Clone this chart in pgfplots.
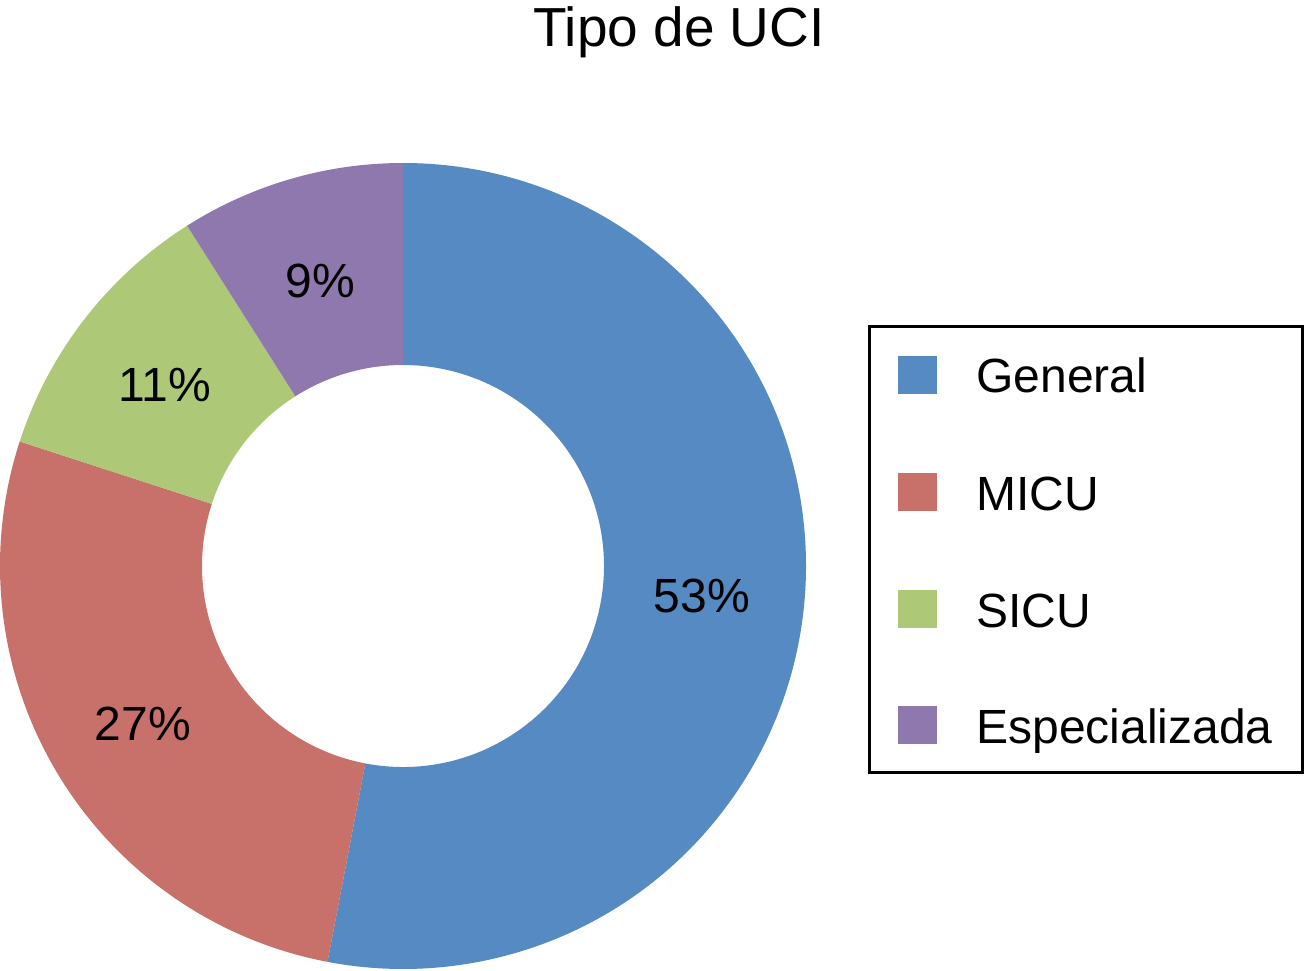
\documentclass[border=0pt]{standalone}
\usepackage{pgfplots}
\pgfplotsset{compat=1.18}
\usepackage{fontspec}
\setmainfont{Liberation Sans}
\definecolor{cGen}{HTML}{558AC2}
\definecolor{cMicu}{HTML}{C8706A}
\definecolor{cSicu}{HTML}{ADC978}
\definecolor{cEsp}{HTML}{8E78AE}
\begin{document}
\begin{tikzpicture}
\begin{axis}[x=0.5pt, y=0.5pt, xmin=0, xmax=1304, ymin=0, ymax=970,
  hide axis, scale only axis, clip=false]
\path (axis cs:0,0) rectangle (axis cs:1304,970);
% donut: center (403,404), outer radius 201.5pt, inner radius 100.5pt
% General 53
\fill[cGen, overlay] ([shift={(90:201.5pt)}]axis cs:403,404) arc[start angle=90, end angle={90-3.6*53}, radius=201.5pt]
  -- ([shift={({90-3.6*53}:100.5pt)}]axis cs:403,404) arc[start angle={90-3.6*53}, end angle=90, radius=100.5pt] -- cycle;
% MICU 27
\fill[cMicu, overlay] ([shift={({90-3.6*53}:201.5pt)}]axis cs:403,404) arc[start angle={90-3.6*53}, end angle={90-3.6*80}, radius=201.5pt]
  -- ([shift={({90-3.6*80}:100.5pt)}]axis cs:403,404) arc[start angle={90-3.6*80}, end angle={90-3.6*53}, radius=100.5pt] -- cycle;
% SICU 11
\fill[cSicu, overlay] ([shift={({90-3.6*80}:201.5pt)}]axis cs:403,404) arc[start angle={90-3.6*80}, end angle={90-3.6*91}, radius=201.5pt]
  -- ([shift={({90-3.6*91}:100.5pt)}]axis cs:403,404) arc[start angle={90-3.6*91}, end angle={90-3.6*80}, radius=100.5pt] -- cycle;
% Especializada 9
\fill[cEsp, overlay] ([shift={({90-3.6*91}:201.5pt)}]axis cs:403,404) arc[start angle={90-3.6*91}, end angle={90-3.6*100}, radius=201.5pt]
  -- ([shift={({90-3.6*100}:100.5pt)}]axis cs:403,404) arc[start angle={90-3.6*100}, end angle={90-3.6*91}, radius=100.5pt] -- cycle;
% labels
\node[font=\fontsize{24}{28}\selectfont, anchor=center] at (axis cs:702,374) {53\%};
\node[font=\fontsize{24}{28}\selectfont, anchor=center] at (axis cs:143,246) {27\%};
\node[font=\fontsize{24}{28}\selectfont, anchor=center] at (axis cs:165,585) {11\%};
\node[font=\fontsize{24}{28}\selectfont, anchor=center] at (axis cs:320,689) {9\%};
% title
\node[font=\fontsize{27.5}{32}\selectfont, anchor=base] at (axis cs:679,923) {Tipo de UCI};
% legend
\draw[line width=1.5pt, overlay] (axis cs:869,643) rectangle (axis cs:1302,198);
\fill[cGen] (axis cs:898,614) rectangle (axis cs:937,576);
\fill[cMicu] (axis cs:898,497) rectangle (axis cs:937,459);
\fill[cSicu] (axis cs:898,380) rectangle (axis cs:937,342);
\fill[cEsp] (axis cs:898,264) rectangle (axis cs:937,226);
\node[font=\fontsize{24}{28}\selectfont, anchor=base west, inner sep=0pt] at (axis cs:976,577) {General};
\node[font=\fontsize{24}{28}\selectfont, anchor=base west, inner sep=0pt] at (axis cs:976,460) {MICU};
\node[font=\fontsize{24}{28}\selectfont, anchor=base west, inner sep=0pt] at (axis cs:976,343) {SICU};
\node[font=\fontsize{24}{28}\selectfont, anchor=base west, inner sep=0pt] at (axis cs:976,227) {Especializada};
\end{axis}
\end{tikzpicture}
\end{document}
